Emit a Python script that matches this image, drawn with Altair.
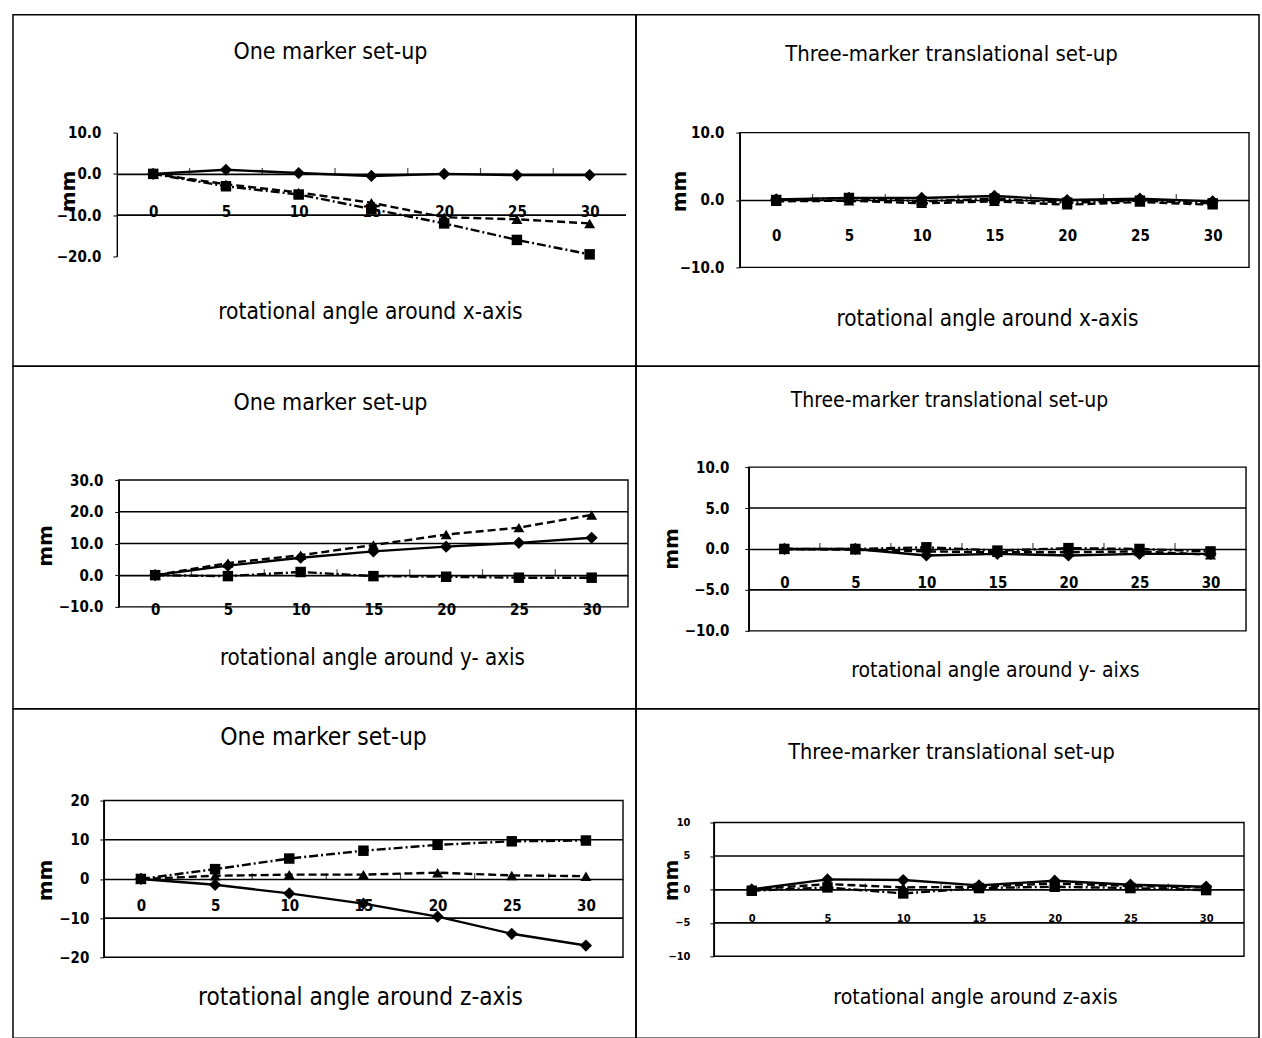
import altair as alt
import pandas as pd

# ---------------- data ----------------
angles = [0, 5, 10, 15, 20, 25, 30]

p1_diamond = [0.0, 1.0, 0.2, -0.5, 0.0, -0.3, -0.3]
p1_square = [0.0, -3.0, -5.0, -8.5, -12.0, -16.0, -19.5]
p1_triangle = [0.0, -2.5, -4.5, -7.0, -10.5, -11.0, -12.0]

p2_diamond = [0.1, 0.3, 0.3, 0.6, 0.0, 0.2, -0.2]
p2_square = [0.0, 0.3, -0.2, 0.2, -0.4, -0.1, -0.5]
p2_triangle = [-0.2, -0.1, -0.5, -0.2, -0.7, -0.3, -0.7]

p3_diamond = [0.0, 3.0, 5.5, 7.5, 9.0, 10.2, 11.8]
p3_square = [0.0, -0.3, 1.0, -0.3, -0.5, -0.8, -0.8]
p3_triangle = [0.0, 3.8, 6.3, 9.5, 12.8, 15.0, 19.0]

p4_diamond = [0.0, 0.0, -0.8, -0.6, -0.8, -0.6, -0.6]
p4_square = [0.0, 0.0, 0.2, -0.2, 0.1, 0.0, -0.3]
p4_triangle = [0.0, -0.1, -0.3, -0.4, -0.4, -0.3, -0.7]

p5_diamond = [0.0, -1.5, -3.7, -6.3, -9.6, -14.0, -17.0]
p5_square = [0.0, 2.5, 5.2, 7.2, 8.7, 9.6, 9.8]
p5_triangle = [0.0, 0.8, 1.1, 1.1, 1.6, 0.9, 0.7]

p6_diamond = [0.0, 1.5, 1.4, 0.6, 1.3, 0.7, 0.4]
p6_square = [-0.2, 0.3, -0.6, 0.2, 0.4, 0.2, -0.1]
p6_triangle = [0.0, 0.8, 0.3, 0.4, 0.9, 0.5, 0.3]

titles = ["One marker set-up", "Three-marker translational set-up",
          "One marker set-up", "Three-marker translational set-up",
          "One marker set-up", "Three-marker translational  set-up"]
xtitles = ["rotational angle around x-axis", "rotational angle around x-axis",
           "rotational angle around y- axis", "rotational angle around y- aixs",
           "rotational angle around z-axis", "rotational angle around z-axis"]
ytitle = "mm"

ydomains = [[-20, 10], [-10, 10], [-10, 30], [-10, 10], [-20, 20], [-10, 10]]
yticks = [[-20, -10, 0, 10], [-10, 0, 10], [-10, 0, 10, 20, 30],
          [-10, -5, 0, 5, 10], [-20, -10, 0, 10, 20], [-10, -5, 0, 5, 10]]
gridvals = [[-10], [], [10, 20], [-5, 5], [-10, 10], [-5, 5]]
yformats = [".1f", ".1f", ".1f", ".1f", "d", "d"]
boundaries = [2.5, 7.5, 12.5, 17.5, 22.5, 27.5]
xdomain = [-2.5, 32.5]

series_data = [
    (p1_diamond, p1_square, p1_triangle),
    (p2_diamond, p2_square, p2_triangle),
    (p3_diamond, p3_square, p3_triangle),
    (p4_diamond, p4_square, p4_triangle),
    (p5_diamond, p5_square, p5_triangle),
    (p6_diamond, p6_square, p6_triangle),
]

# ---------------- layout (pixels inside each panel cell) ----------------
FONT = "DejaVu Sans Condensed, Liberation Sans Narrow, Arial Narrow, sans-serif"
cells = [(624, 352), (624, 352), (624, 343), (624, 343), (624, 330), (624, 330)]
xranges = [(104, 614), (104, 614), (106, 616), (113, 611), (91, 611), (78, 609)]
yranges = [(242, 118), (253, 118), (241, 114), (265, 101), (249, 92), (248, 114)]
xlabel_pad = [31, 29, 27, 27, 20, 23]
ylabel_pad = [12, 12, 12, 16, 11, 20]
tick_font = [15, 15, 15, 15, 15, 11]
framed = [False, True, True, True, True, True]
title_pos = [(318, 37, 23), (316, 39, 22), (318, 37, 23), (314, 35, 21), (311, 29, 24.5), (316, 44, 21.6)]
xtitle_pos = [(358, 298, 22.6), (352, 305, 22.4), (360, 292, 22.2), (360, 305, 21), (348, 290, 24.2), (340, 290, 21.2)]
mm_pos = [(56, 177), (44, 177), (33, 180), (36, 183), (33, 172), (36, 172)]

styles = [("diamond", [], 150), ("square", [9, 3, 2, 3], 110), ("triangle-up", [8, 4], 120)]


def make_panel(i):
    W, H = cells[i]
    ymin, ymax = ydomains[i]
    yr = yranges[i]
    y0pix = yr[0] + (0 - ymin) / (ymax - ymin) * (yr[1] - yr[0])
    xs = alt.Scale(domain=xdomain, range=list(xranges[i]), nice=False, zero=False)
    ys = alt.Scale(domain=ydomains[i], range=list(yr), nice=False, zero=False)
    x_axis = alt.Axis(values=angles, orient="bottom", offset=-(H - y0pix),
                      domain=True, domainColor="black", domainWidth=1.6,
                      ticks=False, tickSize=0, labelPadding=xlabel_pad[i],
                      grid=False, title=None, labelFont=FONT,
                      labelFontSize=tick_font[i], labelFontWeight="bold",
                      labelColor="black", labelAngle=0)
    y_axis = alt.Axis(values=yticks[i], orient="left", offset=-xranges[i][0],
                      format=yformats[i], domain=True, domainColor="black",
                      domainWidth=1.4, ticks=True, tickSize=4, tickColor="black",
                      labelPadding=ylabel_pad[i], grid=False, title=None,
                      labelFont=FONT, labelFontSize=tick_font[i],
                      labelFontWeight="bold", labelColor="black")

    layers = []
    # grid lines
    if gridvals[i]:
        gdf = pd.DataFrame({"g": gridvals[i], "x0": xdomain[0], "x1": xdomain[1]})
        layers.append(alt.Chart(gdf).mark_rule(color="black", strokeWidth=1.6).encode(
            x=alt.X("x0:Q", scale=xs, axis=x_axis), x2="x1:Q",
            y=alt.Y("g:Q", scale=ys, axis=y_axis)))
    # plot frame
    if framed[i]:
        fdf = pd.DataFrame({"x0": [xdomain[0]], "x1": [xdomain[1]],
                            "y0": [ymin], "y1": [ymax]})
        layers.append(alt.Chart(fdf).mark_rect(filled=False, stroke="black",
                                               strokeWidth=1.4).encode(
            x=alt.X("x0:Q", scale=xs, axis=x_axis), x2="x1:Q",
            y=alt.Y("y0:Q", scale=ys, axis=y_axis), y2="y1:Q"))
    # small category ticks on the zero line
    tdf = pd.DataFrame({"b": boundaries, "z": 0})
    layers.append(alt.Chart(tdf).mark_tick(orient="vertical", size=6, thickness=1.2,
                                           color="black", yOffset=-3).encode(
        x=alt.X("b:Q", scale=xs, axis=x_axis),
        y=alt.Y("z:Q", scale=ys, axis=y_axis)))
    # series
    for vals, (shape, dash, msize) in zip(series_data[i], styles):
        sdf = pd.DataFrame({"angle": angles, "v": vals})
        enc = dict(x=alt.X("angle:Q", scale=xs, axis=x_axis),
                   y=alt.Y("v:Q", scale=ys, axis=y_axis))
        line_kw = dict(color="black", strokeWidth=2.4)
        if dash:
            line_kw["strokeDash"] = dash
        layers.append(alt.Chart(sdf).mark_line(**line_kw).encode(**enc))
        layers.append(alt.Chart(sdf).mark_point(shape=shape, filled=True, size=msize,
                                                color="black", opacity=1).encode(**enc))
    # texts
    tx, ty, tfs = title_pos[i]
    layers.append(alt.Chart(pd.DataFrame({"t": [titles[i]]})).mark_text(
        font=FONT, fontSize=tfs, color="black", align="center", baseline="middle").encode(
        text="t:N", x=alt.value(tx), y=alt.value(ty)))
    xx, xy, xfs = xtitle_pos[i]
    layers.append(alt.Chart(pd.DataFrame({"t": [xtitles[i]]})).mark_text(
        font=FONT, fontSize=xfs, color="black", align="center", baseline="middle").encode(
        text="t:N", x=alt.value(xx), y=alt.value(xy)))
    mx, my = mm_pos[i]
    layers.append(alt.Chart(pd.DataFrame({"t": [ytitle]})).mark_text(
        font="DejaVu Sans", fontSize=20, fontWeight="bold", color="black", angle=270,
        align="center", baseline="middle").encode(
        text="t:N", x=alt.value(mx), y=alt.value(my)))

    return alt.layer(*layers).properties(width=W, height=H)


panels = [make_panel(i) for i in range(6)]

chart = alt.concat(*panels, columns=2, spacing=0, bounds="flush").configure_view(
    stroke="black", strokeWidth=1.5
).properties(
    padding={"left": 12, "top": 13, "right": 2, "bottom": 0},
    background="white",
)

chart.save("out.html", embed_options={"renderer": "svg", "actions": False})
